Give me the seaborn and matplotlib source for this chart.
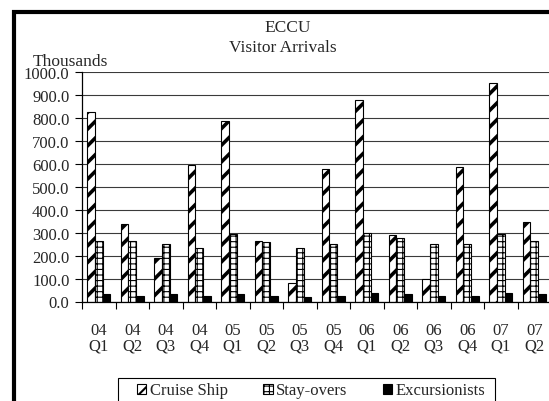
import numpy as np
import pandas as pd
import matplotlib
matplotlib.use("Agg")
import matplotlib.pyplot as plt
from matplotlib.patches import Rectangle
from matplotlib.ticker import FixedLocator, FormatStrFormatter
import seaborn as sns

# Quarterly visitor arrivals to the ECCU (thousands)
quarters = ["04\nQ1", "04\nQ2", "04\nQ3", "04\nQ4",
            "05\nQ1", "05\nQ2", "05\nQ3", "05\nQ4",
            "06\nQ1", "06\nQ2", "06\nQ3", "06\nQ4",
            "07\nQ1", "07\nQ2"]
cruise_ship = [825, 338, 188, 595, 787, 265, 79, 578, 879, 288, 98, 585, 952, 348]
stay_overs = [265, 265, 249, 233, 295, 261, 233, 249, 300, 277, 249, 249, 294, 265]
excursionists = [31, 25, 31, 25, 31, 25, 20, 25, 35, 31, 25, 25, 35, 31]
series_names = ["Cruise Ship", "Stay-overs", "Excursionists"]

df = pd.DataFrame({
    "quarter": quarters * 3,
    "series": np.repeat(series_names, len(quarters)),
    "value": cruise_ship + stay_overs + excursionists,
})

sns.set_style("white")
plt.rcParams["font.family"] = ["Liberation Serif", "DejaVu Serif"]
plt.rcParams["font.size"] = 12
plt.rcParams["hatch.color"] = "black"

W, H = 549, 402
fig = plt.figure(figsize=(W / 100, H / 100), dpi=100)
fig.patch.set_facecolor("white")
ax = fig.add_axes([82 / W, 1 - 302.5 / H, 469 / W, (302.5 - 73.3) / H])

sns.barplot(data=df, x="quarter", y="value", hue="series", order=quarters,
            hue_order=series_names, palette=["white", "white", "black"],
            width=0.69, edgecolor="black", linewidth=0.8, saturation=1,
            errorbar=None, ax=ax, legend=True)

styles = [("//", 2.6), ("+++", 0.8), ("", 0.8)]
for container, (hatch, hlw) in zip(ax.containers, styles):
    for bar in container:
        bar.set_hatch(hatch)
        try:
            bar.set_hatch_linewidth(hlw)
        except AttributeError:
            pass

ax.set_xlim(-0.5, len(quarters) - 0.5)
ax.set_ylim(0, 1000)
ax.set_yticks(np.arange(0, 1001, 100))
ax.yaxis.set_major_formatter(FormatStrFormatter("%.1f"))
ax.set_xlabel("")
ax.set_ylabel("")

# category boundaries carry the x tick marks, labels sit at centres
ax.xaxis.set_minor_locator(FixedLocator(np.arange(-0.5, len(quarters), 1.0)))
ax.tick_params(axis="x", which="major", length=0, pad=15, labelsize=12)
ax.tick_params(axis="x", which="minor", length=5, width=0.8, color="black",
               direction="out", bottom=True)
ax.tick_params(axis="y", which="major", length=5, width=0.8, color="black",
               direction="out", left=True, pad=4, labelsize=12)
for lbl in ax.get_xticklabels():
    lbl.set_linespacing(0.95)

ax.grid(axis="y", color="#3a3a3a", linewidth=0.8)
ax.set_axisbelow(True)
for side in ["left", "bottom"]:
    ax.spines[side].set_color("black")
    ax.spines[side].set_linewidth(0.9)
ax.spines["top"].set_visible(False)
ax.spines["right"].set_visible(False)

# legend entries, with a separate box drawn around them
leg = ax.legend(loc="center left", bbox_to_anchor=(137 / W, 1 - 391.5 / H),
                bbox_transform=fig.transFigure, ncol=3, frameon=False,
                fontsize=12, handlelength=0.55, handleheight=0.55,
                handletextpad=0.2, columnspacing=2.15, borderpad=0,
                borderaxespad=0)
for h, (hatch, hlw) in zip(leg.legend_handles, styles):
    h.set_hatch(hatch)
    h.set_edgecolor("black")
    try:
        h.set_hatch_linewidth(min(hlw, 1.5))
    except AttributeError:
        pass
legend_box = Rectangle((118.3 / W, -0.1), (495 - 118.3) / W, 0.1 + 1 - 379.3 / H,
                       transform=fig.transFigure, fill=False, edgecolor="black",
                       linewidth=0.8, clip_on=False)
fig.patches.append(legend_box)

fig.text(33 / W, 1 - 61.5 / H, "Thousands", ha="left", va="center", fontsize=12.5)
fig.text(288 / W, 1 - 28 / H, "ECCU", ha="center", va="center", fontsize=12.5)
fig.text(283 / W, 1 - 48 / H, "Visitor Arrivals", ha="center", va="center",
         fontsize=12.5)

# heavy chart-area border
border = Rectangle((14 / W, -0.2), 2.0, 1.2 - 12.5 / H, transform=fig.transFigure,
                   fill=False, edgecolor="black", linewidth=3.0, clip_on=False)
fig.patches.append(border)

fig.savefig("out.png", dpi=100, facecolor="white")
